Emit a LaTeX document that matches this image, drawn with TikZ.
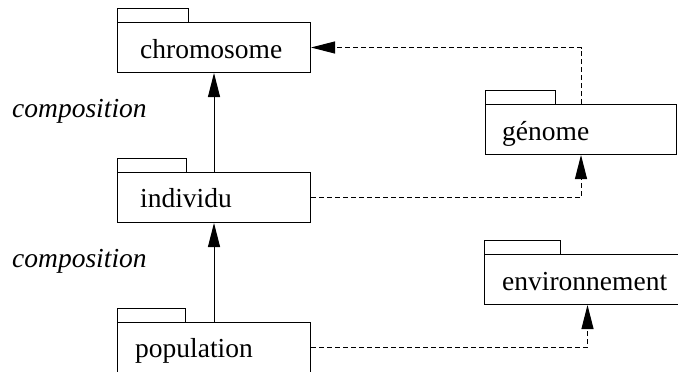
\documentclass[tikz,border=0pt]{standalone}
\usepackage{fontspec}
\setmainfont{Liberation Serif}
\usetikzlibrary{arrows.meta}
\begin{document}
\begin{tikzpicture}[x=1pt,y=1pt,
  pkg/.style={draw, line width=1pt, minimum height=50pt, inner sep=0pt, anchor=north west},
  lbl/.style={anchor=base west, inner sep=0pt, font=\fontsize{27.5}{30}\selectfont},
  tab/.style={draw, line width=1pt},
  comp/.style={line width=1pt, -{Triangle[length=24pt,width=12pt]}},
  dep/.style={line width=1pt, dash pattern=on 5pt off 3pt, -{Triangle[length=24pt,width=12pt]}}]
\clip (0,0) rectangle (678,-372);
\useasboundingbox (0,0) rectangle (678,-372);
% packages
\node[pkg, minimum width=193pt] (chromo) at (117,-22) {};
\node[pkg, minimum width=193pt] (indiv) at (117,-172) {};
\node[pkg, minimum width=193pt] (pop) at (117,-322) {};
\node[pkg, minimum width=191pt] (genome) at (485,-104) {};
\node[pkg, minimum width=206pt] (env) at (484,-254) {};
% tabs
\draw[tab] (chromo.north west) rectangle ++(71,14);
\draw[tab] (indiv.north west) rectangle ++(69,14);
\draw[tab] (pop.north west) rectangle ++(68,14);
\draw[tab] (genome.north west) rectangle ++(70,14);
\draw[tab] (env.north west) rectangle ++(76,14);
% names
\node[lbl] (tchromo) at (140,-58) {chromosome};
\node[lbl] (tindiv) at (140,-207) {individu};
\node[lbl] (tpop) at (135,-357) {population};
\node[lbl] (tgenome) at (502,-140) {génome};
\node[lbl] (tenv) at (502,-290) {environnement};
% composition labels
\node[lbl, font=\fontsize{27.5}{30}\selectfont\itshape] (c1) at (12,-117) {composition};
\node[lbl, font=\fontsize{27.5}{30}\selectfont\itshape] (c2) at (12,-267) {composition};
% connectors
\draw[comp] (indiv.north) -- (chromo.south);
\draw[comp] (pop.north) -- (indiv.south);
\draw[dep] (genome.north) |- (chromo.east);
\draw[dep] (indiv.east) -| (genome.south);
\draw[dep] (pop.east) -| (env.south);
\end{tikzpicture}
\end{document}
